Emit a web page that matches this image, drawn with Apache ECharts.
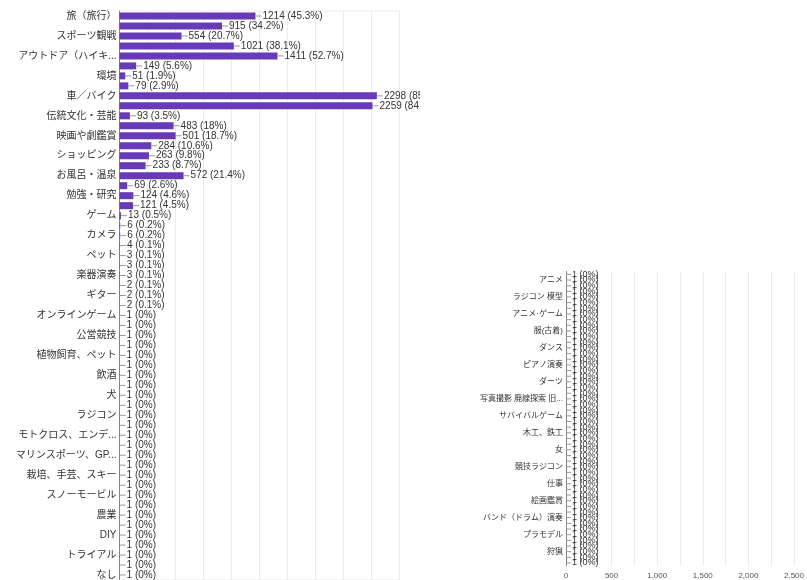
<!DOCTYPE html>
<html><head><meta charset="utf-8">
<script src="https://cdn.jsdelivr.net/npm/echarts@6/dist/echarts.min.js"></script>
<style>
html,body{margin:0;padding:0;background:#fff;overflow:hidden;width:807px;height:580px}
#left{position:absolute;left:0;top:0;width:420px;height:580px}
#right{position:absolute;left:420px;top:0;width:387px;height:580px}
</style>
</head><body><div id="left"></div><div id="right"></div>
<script>
const TOTAL = 2679;
const leftCategories = ['旅（旅行）','','スポーツ観戦','','アウトドア（ハイキ...','','環境','','車／バイク','','伝統文化・芸能','','映画や劇鑑賞','','ショッピング','','お風呂・温泉','','勉強・研究','','ゲーム','','カメラ','','ペット','','楽器演奏','','ギター','','オンラインゲーム','','公営競技','','植物飼育、ペット','','飲酒','','犬','','ラジコン','','モトクロス、エンデ...','','マリンスポーツ、GP...','','栽培、手芸、スキー','','スノーモービル','','農業','','DIY','','トライアル','','なし'];
const leftValues = [1214,915,554,1021,1411,149,51,79,2298,2259,93,483,501,284,263,233,572,69,124,121,13,6,6,4,3,3,3,2,2,2,1,1,1,1,1,1,1,1,1,1,1,1,1,1,1,1,1,1,1,1,1,1,1,1,1,1,1];
const rightCategories = ['','アニメ','','','ラジコン 模型','','','アニメ·ゲーム','','','服(古着)','','','ダンス','','','ピアノ演奏','','','ダーツ','','','写真撮影 廃線探索 旧...','','','サバイバルゲーム','','','木工、鉄工','','','女','','','競技ラジコン','','','仕事','','','絵画鑑賞','','','バンド（ドラム）演奏','','','プラモデル','','','狩猟','',''];
const rightValues = [1,1,1,1,1,1,1,1,1,1,1,1,1,1,1,1,1,1,1,1,1,1,1,1,1,1,1,1,1,1,1,1,1,1,1,1,1,1,1,1,1,1,1,1,1,1,1,1,1,1,1,1];
const xTicks = [0,500,1000,1500,2000,2500];

const FONT = "'Liberation Sans', Arial, 'Noto Sans CJK JP', sans-serif";
const BAR = '#673ab7';
function pct(v){ return Math.round(v / TOTAL * 1000) / 10; }
function makeOption(cfg){
  return {
    animation:false,
    textStyle:{fontFamily:FONT},
    grid:{left:cfg.left, top:cfg.top, width:cfg.width, height:cfg.height, show:cfg.border, borderColor:'#ebebeb', borderWidth:1, containLabel:false},
    xAxis:{type:'value', min:0, max:2500, interval:250,
      axisLine:{show:false}, axisTick:{show:false},
      axisLabel:{show:cfg.xlabels, fontSize:8, color:'#555', margin:6, fontFamily:FONT,
        formatter:v => xTicks.indexOf(v) >= 0 ? v.toLocaleString('en-US') : ''},
      splitLine:{show:true, lineStyle:{color:'#ebebeb', width:1}}},
    yAxis:{type:'category', inverse:true, data:cfg.categories,
      axisLine:{show:true, lineStyle:{color:'#888', width:1}},
      axisTick:{show:false},
      axisLabel:{interval:0, fontSize:cfg.catFont, color:'#333', margin:3, fontFamily:FONT}},
    series:[{type:'bar', data:cfg.values, barWidth:cfg.barWidth,
      itemStyle:{color:BAR},
      label:{show:true, position:'right', distance:0,
        formatter:p => '{d|}{t|' + p.value + ' (' + pct(p.value) + '%)}',
        rich:{
          d:{width:cfg.dash, height:1, backgroundColor:'#999'},
          t:{fontSize:cfg.valFont, color:'#333', padding:[0,0,0,1], fontFamily:FONT}
        }}}]
  };
}
const left = echarts.init(document.getElementById('left'), null, {renderer:'canvas'});
left.setOption(makeOption({left:119.5, top:11, width:280, height:571.1, border:true, xlabels:false,
  categories:leftCategories, values:leftValues, catFont:10, valFont:10, barWidth:7, dash:6}));
const right = echarts.init(document.getElementById('right'), null, {renderer:'canvas'});
right.setOption(makeOption({left:146, top:271.5, width:234, height:294.3, border:false, xlabels:true,
  categories:rightCategories, values:rightValues, catFont:8, valFont:9, barWidth:4, dash:5}));
</script>
</body></html>
